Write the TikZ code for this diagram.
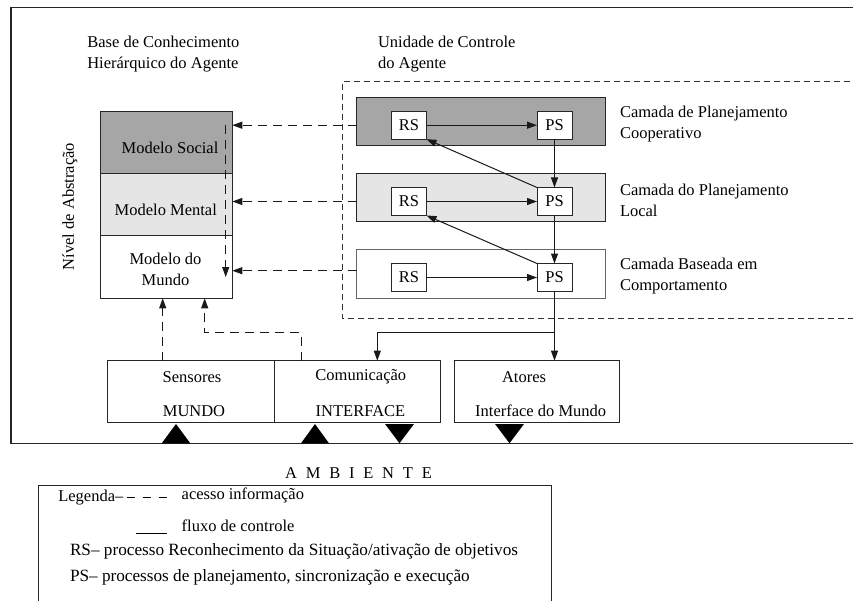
\documentclass[tikz,border=0pt]{standalone}
\usepackage{fontspec}
\setmainfont{Liberation Serif}
\usetikzlibrary{arrows.meta}
\newcommand\ambsp{\hspace{8.8bp}}
\begin{document}
\begin{tikzpicture}[x=1bp,y=-1bp,
  base/.style={inner sep=0pt, outer sep=0pt},
  txt/.style={base, font=\fontsize{16.5bp}{21bp}\selectfont, text=black},
  legtxt/.style={base, anchor=west, font=\fontsize{16.5bp}{21bp}\selectfont, text=black},
  legwide/.style={legtxt, font=\fontsize{17.2bp}{21bp}\selectfont},
  box/.style={base, rectangle, draw=black!85, line width=1bp},
  proc/.style={box, fill=white, minimum width=35bp, minimum height=28bp,
    font=\fontsize{16.5bp}{20bp}\selectfont},
  darkfill/.style={fill=black!35},
  lightfill/.style={fill=black!10},
  tip/.tip={Triangle[length=10bp,width=7bp]},
  ctrl/.style={line width=1bp, draw=black!90, -tip},
  info/.style={line width=1bp, draw=black!90, dash pattern=on 9bp off 6bp, -tip},
  marker/.style={fill=black}
]
\useasboundingbox (0,0) rectangle (853,601);
\clip (0,0) rectangle (853,601);

% outer frame of the agent (open to the right)
\draw[line width=1.4bp, black!85] (870,7.3) -- (11,7.3) -- (11,443.3) -- (870,443.3);

% headings
\node[txt, anchor=west, align=left] (kbhead) at (87.3,53.8)
  {Base de Conhecimento\\Hier\'arquico do Agente};
\node[txt, anchor=west, align=left] (cuhead) at (378,53.8)
  {Unidade de Controle\\do Agente};
\node[txt, rotate=90] (abstr) at (70,206.7) {Nível de Abstração};

% knowledge base stack
\node[box, darkfill, minimum width=131.6bp, minimum height=62bp] (social) at (166.5,142.7) {};
\node[box, lightfill, minimum width=131.6bp, minimum height=62.3bp] (mental) at (166.5,204.85) {};
\node[box, fill=white, minimum width=131.6bp, minimum height=62.3bp] (mundo) at (166.5,267.15) {};
\node[txt] (tsocial) at (170,147.7) {Modelo Social};
\node[txt] (tmental) at (165.8,210) {Modelo Mental};
\node[txt, align=center] (tmundo) at (165.5,269.3) {Modelo do\\Mundo};

% control unit (dashed, open to the right)
\draw[line width=0.8bp, black!80, dash pattern=on 6bp off 4bp]
  (870,81.7) -- (342.7,81.7) -- (342.7,318.7) -- (870,318.7);

% layers
\node[box, darkfill, minimum width=249.3bp, minimum height=48.3bp] (l1) at (481.3,121.8) {};
\node[box, lightfill, minimum width=249.3bp, minimum height=48.3bp] (l2) at (481.3,197.5) {};
\node[box, draw=black!60, fill=white, minimum width=249.3bp, minimum height=48.3bp] (l3) at (481.3,274) {};

\node[txt, anchor=west, align=left] (c1) at (620,124.2) {Camada de Planejamento\\Cooperativo};
\node[txt, anchor=west, align=left] (c2) at (620,200.3) {Camada do Planejamento\\Local};
\node[txt, anchor=west, align=left] (c3) at (620,276.3) {Camada Baseada em\\Comportamento};

% RS / PS processes
\node[proc] (rs1) at (409,125.2) {RS};
\node[proc] (ps1) at (554.5,125.2) {PS};
\node[proc] (rs2) at (409,201.5) {RS};
\node[proc] (ps2) at (554.5,201.5) {PS};
\node[proc] (rs3) at (409,277.5) {RS};
\node[proc] (ps3) at (554.5,277.5) {PS};

% control flow inside the unit
\draw[ctrl] (rs1) -- (ps1);
\draw[ctrl] (rs2) -- (ps2);
\draw[ctrl] (rs3) -- (ps3);
\draw[ctrl] (ps1) -- (ps2);
\draw[ctrl] (ps2) -- (ps3);
\draw[ctrl] (ps2.north west) -- (rs1.south east);
\draw[ctrl] (ps3.north west) -- (rs2.south east);

% information access from layers to the knowledge base
\coordinate (m3) at (0,270.7);
\draw[info] (l1.west |- rs1) -- (social.east |- rs1);
\draw[info] (l2.west |- rs2) -- (mental.east |- rs2);
\draw[info] (l3.west |- m3) -- (mundo.east |- m3);
\coordinate (vtop) at (225.7,125.2);
\coordinate (vbot) at (225.7,277);
\draw[info] (vtop) -- (vbot);

% world interface boxes
\node[box, minimum width=166.7bp, minimum height=62bp] (sens) at (190.65,391.7) {};
\node[box, minimum width=166bp, minimum height=62bp] (comm) at (357,391.7) {};
\node[box, minimum width=165.3bp, minimum height=62bp] (atores) at (536.65,391.7) {};
\node[txt] (tsens) at (192,377) {Sensores};
\node[txt] (tmundoif) at (194,410.7) {MUNDO};
\node[txt] (tcomm) at (360.8,377) {Comunicação};
\node[txt] (tinterf) at (360.5,410.7) {INTERFACE};
\node[txt] (tatores) at (524,377) {Atores};
\node[txt] (tifm) at (540.7,410.7) {Interface do Mundo};

% control flow to the effectors
\coordinate (split) at (ps3.south |- 0,332.7);
\coordinate (commin) at (377.3,0);
\draw[ctrl] (ps3.south) -- (ps3.south |- atores.north);
\draw[ctrl] (split) -| (commin |- comm.north);

% perception paths into the world model
\coordinate (junc) at (0,332.7);
\coordinate (ctap) at (301.3,0);
\coordinate (ktap) at (204.7,0);
\coordinate (stap) at (162.7,0);
\draw[info] (ctap |- comm.north) -- (ctap |- junc) -- (ktap |- junc) -- (ktap |- mundo.south);
\draw[info] (stap |- sens.north) -- (stap |- mundo.south);

% environment markers
\fill[marker] (161.7,443.3) -- (176,424) -- (190.3,443.3) -- cycle;
\fill[marker] (301,443.3) -- (315,424) -- (329,443.3) -- cycle;
\fill[marker] (385,424) -- (399.5,443.3) -- (414,424) -- cycle;
\fill[marker] (495,424) -- (509.5,443.3) -- (524,424) -- cycle;

% environment and legend
\node[txt] (amb) at (358.5,473.3)
  {A\ambsp M\ambsp B\ambsp I\ambsp E\ambsp N\ambsp T\ambsp E};
\draw[line width=1bp, black!85] (38.3,620) -- (38.3,485.7) -- (551,485.7) -- (551,620);
\node[legtxt] (leg) at (58.3,498) {Legenda–};
\coordinate (da) at (127.3,497.3);
\coordinate (db) at (167.3,497.3);
\draw[line width=1.1bp, dash pattern=on 8bp off 8bp] (da) -- (db);
\node[legtxt] (legdash) at (181.7,495.7) {acesso informação};
\coordinate (sa) at (136,533.3);
\coordinate (sb) at (167.3,533.3);
\draw[line width=1.1bp] (sa) -- (sb);
\node[legtxt] (legsolid) at (181.7,525.7) {fluxo de controle};
\node[legwide] (legrs) at (70,551.5) {RS– processo Reconhecimento da Situação/ativação de objetivos};
\node[legwide] (legps) at (70,577) {PS– processos de planejamento, sincronização e execução};
\end{tikzpicture}
\end{document}
